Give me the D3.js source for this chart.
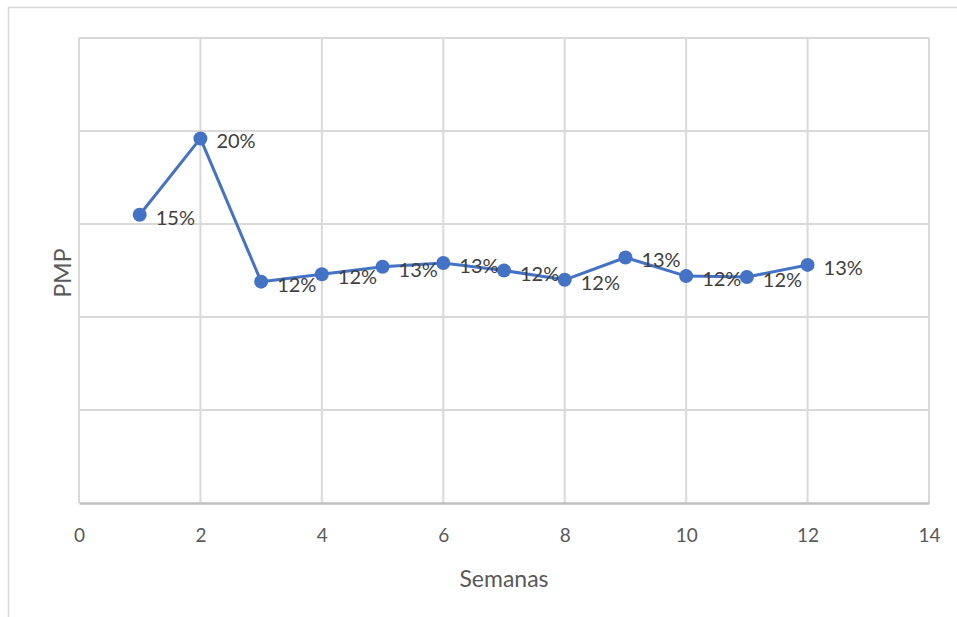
<!DOCTYPE html>
<head>
  <meta charset="utf-8">
  <title>PMP</title>
  <script src="https://cdn.jsdelivr.net/npm/d3@7"></script>
  <style>
    body { margin: 0; background: #fff; }
    text { font-family: Lato, "Open Sans", sans-serif; }
  </style>
</head>
<body>
<script>
  var semanas = [1, 2, 3, 4, 5, 6, 7, 8, 9, 10, 11, 12];
  var pmp = [0.155, 0.196, 0.119, 0.123, 0.127, 0.129, 0.125, 0.120, 0.132, 0.122, 0.1215, 0.128];
  var etiquetas = ["15%", "20%", "12%", "12%", "13%", "13%", "12%", "12%", "13%", "12%", "12%", "13%"];
  var xTicks = [0, 2, 4, 6, 8, 10, 12, 14];
  var yTicks = [0.05, 0.10, 0.15, 0.20, 0.25];

  var W = 957, H = 617;
  var margin = {top: 38, right: 28, bottom: 114, left: 79};

  var svg = d3.select("body").append("svg")
    .attr("width", W).attr("height", H);

  // outer chart border
  svg.append("rect")
    .attr("x", 8.5).attr("y", 7.5)
    .attr("width", 970).attr("height", 640)
    .attr("fill", "none").attr("stroke", "#d9d9d9").attr("stroke-width", 1.5);

  var x = d3.scaleLinear().domain([0, 14]).range([margin.left, W - margin.right]);
  var y = d3.scaleLinear().domain([0, 0.25]).range([H - margin.bottom, margin.top]);

  // grid
  svg.append("g").selectAll("line.v")
    .data(xTicks).enter().append("line")
    .attr("x1", d => x(d)).attr("x2", d => x(d))
    .attr("y1", y(0.25)).attr("y2", y(0))
    .attr("stroke", "#d9d9d9").attr("stroke-width", 2);

  svg.append("g").selectAll("line.h")
    .data(yTicks).enter().append("line")
    .attr("x1", x(0)).attr("x2", x(14))
    .attr("y1", d => y(d)).attr("y2", d => y(d))
    .attr("stroke", "#d9d9d9").attr("stroke-width", 2);

  // x axis
  var xAxis = svg.append("g")
    .attr("transform", "translate(0," + y(0) + ")")
    .call(d3.axisBottom(x).tickValues(xTicks).tickSize(0).tickPadding(26));
  xAxis.select(".domain").attr("stroke", "#bfbfbf").attr("stroke-width", 2.5);
  xAxis.selectAll("text")
    .attr("fill", "#595959").style("font-size", "19px")
    .style("font-family", "Lato, 'Open Sans', sans-serif");

  svg.append("text")
    .attr("x", (x(0) + x(14)) / 2).attr("y", 578)
    .attr("text-anchor", "middle").attr("dominant-baseline", "central")
    .attr("fill", "#595959").style("font-size", "23px")
    .text("Semanas");

  svg.append("text")
    .attr("transform", "translate(62," + 273 + ") rotate(-90)")
    .attr("text-anchor", "middle").attr("dominant-baseline", "central")
    .attr("fill", "#595959").style("font-size", "23px")
    .text("PMP");

  // series
  var pts = semanas.map((s, i) => [s, pmp[i], etiquetas[i]]);

  svg.append("path")
    .datum(pts)
    .attr("fill", "none").attr("stroke", "#4472c4").attr("stroke-width", 3)
    .attr("stroke-linejoin", "round")
    .attr("d", d3.line().x(d => x(d[0])).y(d => y(d[1])));

  svg.selectAll("circle")
    .data(pts).enter().append("circle")
    .attr("cx", d => x(d[0])).attr("cy", d => y(d[1]))
    .attr("r", 7).attr("fill", "#4472c4");

  svg.selectAll("text.lbl")
    .data(pts).enter().append("text")
    .attr("class", "lbl")
    .attr("x", d => x(d[0]) + 16).attr("y", d => y(d[1]) + 2)
    .attr("dominant-baseline", "central")
    .attr("fill", "#404040").style("font-size", "20px")
    .text(d => d[2]);
</script>
</body>
